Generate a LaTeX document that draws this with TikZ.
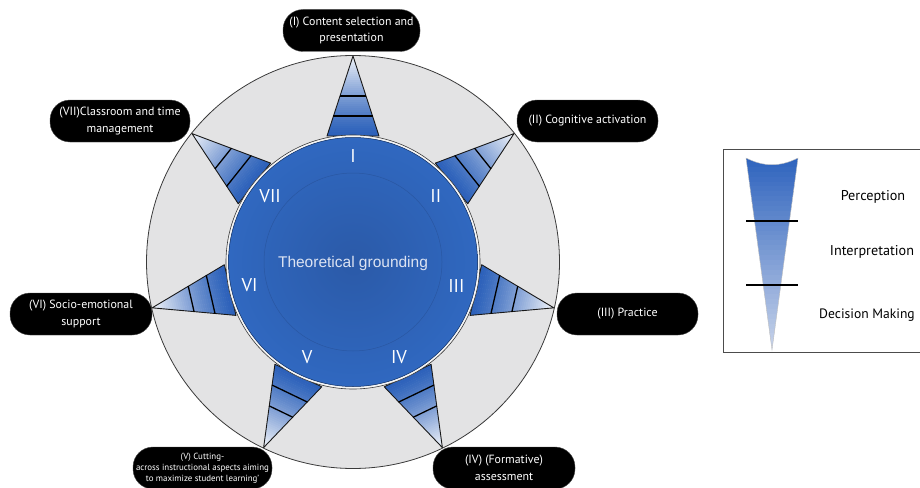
\documentclass[tikz,border=0pt]{standalone}
\usepackage{fontspec}
\setmainfont{PT Sans}
\newfontfamily\helv{Liberation Sans}
\definecolor{ringgray}{HTML}{E3E3E4}
\definecolor{ringline}{HTML}{3A3A3A}
\definecolor{discblue}{HTML}{3068C0}
\definecolor{disccore}{HTML}{2B5AA8}
\definecolor{wedgedark}{HTML}{2C61BA}
\definecolor{wedgelight}{HTML}{F0F3F9}
\definecolor{funneltop}{HTML}{2F64BE}
\definecolor{funnelbot}{HTML}{C9D4EA}
\definecolor{coretext}{HTML}{DCE3F2}
\tikzset{
  pill/.style={fill=black, draw=black!70, rounded corners=20pt, minimum height=42pt,
    text=white, align=center, inner sep=0pt,
    font=\fontsize{11.9}{16.5}\selectfont},
  numeral/.style={text=white, inner sep=0pt, font=\fontsize{18.5}{18}\selectfont},
  wedgeline/.style={draw=black!90, line width=0.9pt, line join=round},
  divider/.style={draw=black, line width=1.3pt},
  legendtext/.style={text=black, inner sep=0pt, font=\fontsize{14.2}{16}\selectfont}
}
\begin{document}
\begin{tikzpicture}[x=1pt,y=-1pt]
\useasboundingbox (0,0) rectangle (920,487);
\clip (0,0) rectangle (920,487);

\coordinate (c) at (353,262);

% grey outer ring
\fill[ringgray] (c) circle (206.5);
\draw[ringline, line width=0.8pt] (c) circle (206.5);

% seven graded wedges, each pointing outwards from the disc
\foreach \k in {0,...,6}{
  \pgfmathsetmacro\rot{90-51.42857*\k}
  \begin{scope}[shift={(c)}, rotate=\rot]
    \begin{scope}
      \clip (126,-26) -- (206,0) -- (126,26) -- cycle;
      \foreach \i in {0,...,39}{
        \pgfmathsetmacro\p{100*(\i/39)^1.25}
        \fill[wedgelight!\p!wedgedark] (126+2*\i,-30) rectangle (128.4+2*\i,30);
      }
    \end{scope}
    \draw[wedgeline] (126,-26) -- (206,0) -- (126,26) -- cycle;
    \draw[divider] (146,-19.8) -- (146,19.8);
    \draw[divider] (166,-13.2) -- (166,13.2);
  \end{scope}
}

% central disc with its thin light rim
\fill[white!96!black] (c) circle (127);
\draw[ringline, line width=0.6pt] (c) circle (127);
\fill[discblue] (c) circle (124.5);
\shade[inner color=disccore, outer color=discblue] (c) circle (124.5);
\draw[disccore!60!black, line width=0.5pt] (c) circle (124.5);
\draw[disccore!80!black, line width=0.5pt, opacity=0.45] (c) circle (89);

\node[font=\helv\fontsize{15.5}{18}\selectfont, text=coretext, inner sep=0pt] (core) at (353,263) {Theoretical grounding};

% roman numerals round the disc
\foreach \k/\nm in {0/I,1/II,2/III,3/IV,4/V,5/VI,6/VII}{
  \pgfmathsetmacro\ang{-90+51.42857*\k}
  \node[numeral] (num\k) at ([shift={(\ang:106)}]c) {\nm};
}

% black labels of the seven aspects
\node[pill, minimum width=137pt] (lab1) at (351.5,30.5) {(I) Content selection and\\presentation};
\node[pill, minimum width=141pt] (lab2) at (587.5,121) {(II) Cognitive activation};
\node[pill, minimum width=141pt] (lab3) at (627.5,314) {(III) Practice};
\node[pill, minimum width=142pt] (lab4) at (504,468) {(IV) (Formative)\\assessment};
\node[pill, minimum width=139pt, font=\fontsize{8.9}{11.2}\selectfont] (lab5) at (202.5,468)
  {(V) Cutting-\\across instructional aspects aiming\\to maximize student learning'};
\node[pill, minimum width=142pt] (lab6) at (81,314) {(VI) Socio-emotional\\support};
\node[pill, minimum width=140pt] (lab7) at (120,121) {(VII)Classroom and time\\management};

% legend
\draw[black!70, line width=0.8pt] (723,149) rectangle (935,352);
\begin{scope}
  \clip (746,158) .. controls (764,167) and (780,167) .. (798,158) -- (772,350) -- cycle;
  \foreach \i in {0,...,39}{
    \pgfmathsetmacro\p{100*\i/39}
    \fill[funnelbot!\p!funneltop] (740,157+4.9*\i) rectangle (805,162.4+4.9*\i);
  }
\end{scope}
\draw[black!25, line width=0.4pt] (746,158) .. controls (764,167) and (780,167) .. (798,158) -- (772,350) -- cycle;
\draw[divider] (746,221) -- (798,221);
\draw[divider] (746,285) -- (798,285);
\node[legendtext] (leg1) at (873,197) {Perception};
\node[legendtext] (leg2) at (872,252) {Interpretation};
\node[legendtext, anchor=west, font=\fontsize{13.6}{16}\selectfont] (leg3) at (819,315) {Decision Making};
\end{tikzpicture}
\end{document}
